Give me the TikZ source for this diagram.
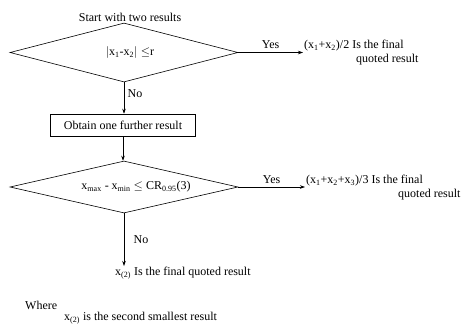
\documentclass[tikz,border=0pt]{standalone}
\usepackage{fontspec}
\setmainfont{Liberation Serif}
\usetikzlibrary{shapes.geometric,arrows.meta,positioning}
\tikzset{
  decision/.style={diamond, draw, line width=0.6pt, aspect=4, inner sep=0pt,
    minimum width=228pt, minimum height=59pt},
  process/.style={rectangle, draw, line width=0.6pt, inner sep=2pt,
    minimum width=145pt, minimum height=22pt},
  flow/.style={-{Stealth[length=5pt,width=3.5pt]}, line width=0.6pt},
  txt/.style={inner sep=1pt},
}
\begin{document}
\begin{tikzpicture}[x=1pt, y=-1pt, font=\fontsize{12}{14}\selectfont]
  \useasboundingbox (0,0) rectangle (473,327);
  % First test on two results
  \node[txt] (start) at (130,17) {Start with two results};
  \node[decision] (d1) at (124,52.5)
    {\hspace*{12pt}$|$x\textsubscript{1}-x\textsubscript{2}$|\leq$r};
  \node[txt, anchor=north west, align=left] (res1) at (303,39)
    {(x\textsubscript{1}+x\textsubscript{2})/2 Is the final\\\hspace*{52pt}quoted result};
  \draw[flow] (d1.east) -- (d1.east -| res1.west) node[midway, above] {Yes};
  % Third result
  \node[process] (obtain) at (123,125) {Obtain one further result};
  \draw[flow] (d1.south) -- (d1.south |- obtain.north) node[pos=0.35, right] {No};
  % Second test on three results
  \node[decision, minimum height=52pt] (d2) at (124,187)
    {\hspace*{24pt}x\textsubscript{max} - x\textsubscript{min} $\leq$ CR\textsubscript{0.95}(3)};
  \draw[flow] (obtain.south) -- (obtain.south |- d2.north);
  \node[txt, anchor=north west, align=left] (res2) at (305,174)
    {(x\textsubscript{1}+x\textsubscript{2}+x\textsubscript{3})/3 Is the final\\\hspace*{92pt}quoted result};
  \draw[flow] (d2.east) -- (d2.east -| res2.west) node[midway, above] {Yes};
  \node[txt, anchor=north west] (res3) at (114,266)
    {x\textsubscript{(2)} Is the final quoted result};
  \draw[flow] (d2.south) -- (d2.south |- res3.north) node[midway, right, xshift=6pt] {No};
  % Note
  \node[txt, anchor=west] (where) at (24,305) {Where};
  \node[txt, anchor=west] (note) at (63,318) {x\textsubscript{(2)} is the second smallest result};
\end{tikzpicture}
\end{document}
